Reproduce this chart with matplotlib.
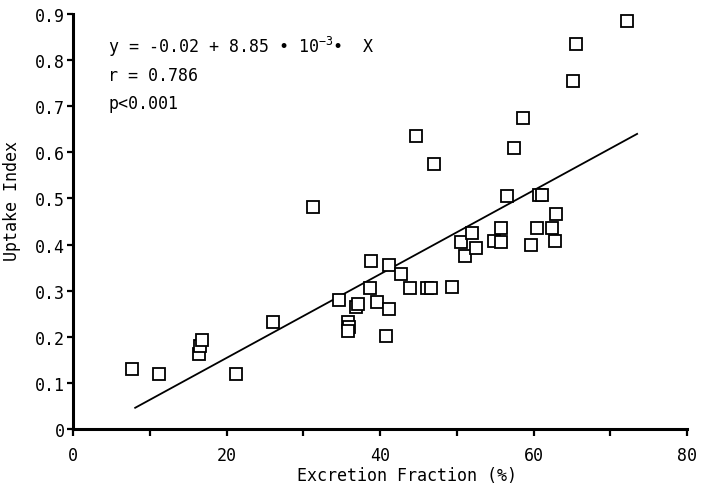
import matplotlib
matplotlib.use("Agg")
import matplotlib.pyplot as plt

# Data
excretion_fraction = [7.7, 11.2, 16.4, 16.5, 16.8, 21.2, 26.1, 31.3, 34.7,
                      35.8, 35.9, 35.8, 36.9, 37.1, 38.7, 38.8, 39.6, 40.8,
                      41.2, 41.2, 42.7, 43.9, 44.7, 46.1, 46.7, 47.0, 49.4,
                      50.6, 51.1, 52.0, 52.5, 54.9, 55.8, 55.8, 56.5, 57.4,
                      58.6, 59.7, 60.5, 60.7, 61.1, 62.4, 62.8, 62.9, 65.2,
                      65.5, 72.2]
uptake_index = [0.130, 0.119, 0.163, 0.180, 0.193, 0.119, 0.232, 0.481, 0.280,
                0.231, 0.221, 0.213, 0.265, 0.271, 0.306, 0.364, 0.275, 0.202,
                0.260, 0.356, 0.336, 0.306, 0.636, 0.306, 0.306, 0.575, 0.308,
                0.406, 0.375, 0.425, 0.393, 0.408, 0.436, 0.406, 0.505, 0.609,
                0.675, 0.399, 0.436, 0.508, 0.508, 0.436, 0.408, 0.466, 0.755,
                0.835, 0.885]
# regression line endpoints as drawn in the reference
fit_line_x = [8.1, 73.5]
fit_line_y = [0.046, 0.640]
x_ticks_major = [0, 20, 40, 60, 80]
x_ticks_minor = [10, 30, 50, 70]
y_ticks = [0, 0.1, 0.2, 0.3, 0.4, 0.5, 0.6, 0.7, 0.8, 0.9]
y_tick_labels = ["0", "0.1", "0.2", "0.3", "0.4", "0.5", "0.6", "0.7", "0.8", "0.9"]
annotation_lines = ["y = -0.02 + 8.85 \u2022 10$^{-3}$\u2022  X", "r = 0.786", "p<0.001"]

plt.rcParams['font.family'] = ['DejaVu Sans Mono', 'DejaVu Sans']
plt.rcParams['mathtext.fontset'] = 'custom'
plt.rcParams['mathtext.rm'] = 'DejaVu Sans Mono'
plt.rcParams['mathtext.it'] = 'DejaVu Sans Mono'

fig = plt.figure(figsize=(7.01, 4.89), dpi=100)
ax = fig.add_axes([73/701, 1 - 430/489, 614/701, 415/489])

ax.plot(excretion_fraction, uptake_index, linestyle='none', marker='s',
        markersize=8, markerfacecolor='white', markeredgecolor='black',
        markeredgewidth=1.3, zorder=3)

ax.plot(fit_line_x, fit_line_y, color='black', linewidth=1.3, zorder=2)

ax.set_xlim(0, 80)
ax.set_ylim(0, 0.9)
ax.set_xticks(x_ticks_major)
ax.set_xticks(x_ticks_minor, minor=True)
ax.set_yticks(y_ticks)
ax.set_yticklabels(y_tick_labels)

for s in ['top', 'right']:
    ax.spines[s].set_visible(False)
for s in ['left', 'bottom']:
    ax.spines[s].set_linewidth(2.2)

ax.tick_params(axis='x', which='both', direction='out', length=5, width=1.6,
               labelsize=12, pad=7)
ax.tick_params(axis='y', direction='out', length=4, width=1.6, labelsize=12, pad=2)

ax.set_xlabel("Excretion Fraction (%)", fontsize=12)
ax.xaxis.set_label_coords((407 - 73) / 614, -(476 - 430) / 415)
ax.xaxis.label.set_va('center')
ax.set_ylabel("Uptake Index", fontsize=12)
ax.yaxis.set_label_coords(-(73 - 12) / 614, (430 - 201) / 415)
ax.yaxis.label.set_va('center')

ys = [47, 76, 104]
for txt, yp in zip(annotation_lines, ys):
    ax.text((108 - 73) / 614, (430 - yp) / 415, txt, transform=ax.transAxes,
            fontsize=12, ha='left', va='center')

fig.savefig("out.png", dpi=100)
